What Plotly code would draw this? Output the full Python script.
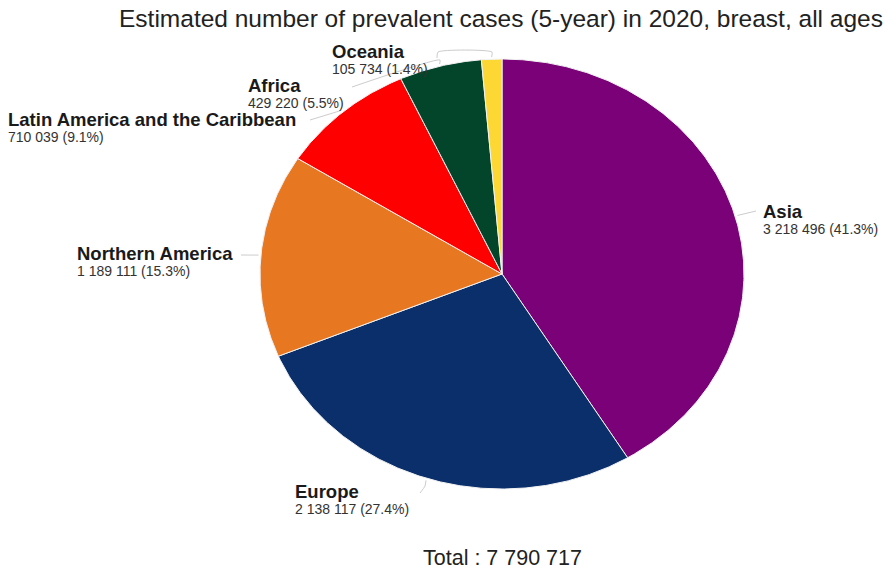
import numpy as np
import plotly.graph_objects as go

# ---- data ----
regions = ["Asia", "Europe", "Northern America", "Latin America and the Caribbean", "Africa", "Oceania"]
cases = [3218496, 2138117, 1189111, 710039, 429220, 105734]
colors = ["#7a0177", "#0a2f6a", "#e87722", "#ff0000", "#02452a", "#fdd835"]
title = "Estimated number of prevalent cases (5-year) in 2020, breast, all ages"

# ---- layout constants (pixel space) ----
W, H = 895, 571
CX, CY, RX, RY = 502, 274, 242, 215
label_pos = {  # left x, y of label name line
    "Asia": (761, 211),
    "Europe": (293, 491),
    "Northern America": (75, 253),
    "Latin America and the Caribbean": (6, 119),
    "Africa": (246, 85),
    "Oceania": (330, 51),
}
leader_way = {
    "Asia": [(756, 211)],
    "Europe": [(425, 486), (420, 493)],
    "Northern America": [(241, 255)],
    "Latin America and the Caribbean": [(310, 120)],
    "Africa": [(440, 60), (352, 87)],
    "Oceania": [(492, 52), (438, 52), (437, 58)],
}

def fmt(n):
    return f"{n:,}".replace(",", " ")

total = sum(cases)
fig = go.Figure()

def pt(theta_deg, k=1.0):
    t = np.radians(theta_deg)
    return CX + k * RX * np.sin(t), CY - k * RY * np.cos(t)

FONT = "Liberation Sans, Arial"
cum = 0.0
for name, v, c in zip(regions, cases, colors):
    a0 = cum / total * 360
    a1 = (cum + v) / total * 360
    cum += v
    n = max(int((a1 - a0) / 0.4), 2)
    ang = np.linspace(a0, a1, n)
    xs, ys = pt(ang)
    px = [CX] + list(xs) + [CX]
    py = [CY] + list(ys) + [CY]
    pct = v / total * 100
    fig.add_trace(go.Scatter(
        x=px, y=py, fill="toself", fillcolor=c, mode="lines",
        line=dict(color="#f2f2f2", width=1), name=name,
        hoverinfo="text", text=f"{name}: {fmt(v)} ({pct:.1f}%)", showlegend=False,
    ))
    # leader line
    mid = (a0 + a1) / 2
    sx, sy = pt(mid, 1.01)
    way = leader_way[name]
    fig.add_trace(go.Scatter(
        x=[sx] + [w[0] for w in way], y=[sy] + [w[1] for w in way],
        mode="lines", line=dict(color="#cccccc", width=1, shape="spline", smoothing=0.6),
        hoverinfo="skip", showlegend=False,
    ))
    lx, ly = label_pos[name]
    fig.add_annotation(x=lx, y=ly, text=f"<b>{name}</b>", showarrow=False,
                       xanchor="left", yanchor="middle",
                       font=dict(family=FONT, size=18.5, color="#1a1a1a"))
    fig.add_annotation(x=lx, y=ly + 17.5, text=f"{fmt(v)} ({pct:.1f}%)", showarrow=False,
                       xanchor="left", yanchor="middle",
                       font=dict(family=FONT, size=14, color="#333333"))

fig.add_annotation(x=501, y=18, text=title, showarrow=False, xanchor="center", yanchor="middle",
                   font=dict(family=FONT, size=24.5, color="#222222"))
fig.add_annotation(x=502, y=558, text=f"Total : {fmt(total)}", showarrow=False,
                   xanchor="center", yanchor="middle",
                   font=dict(family=FONT, size=21.5, color="#222222"))

fig.update_layout(
    width=W, height=H, margin=dict(l=0, r=0, t=0, b=0),
    paper_bgcolor="white", plot_bgcolor="white",
    xaxis=dict(range=[0, W], visible=False, fixedrange=True),
    yaxis=dict(range=[H, 0], visible=False, fixedrange=True),
)
fig.write_html("out.html")
